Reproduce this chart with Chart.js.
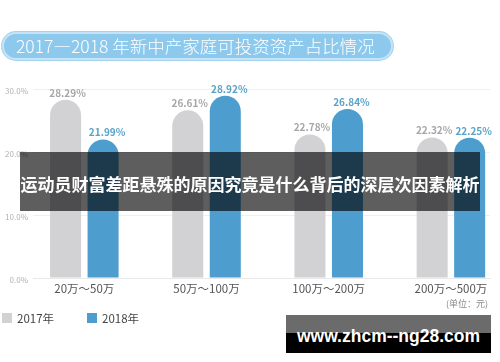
<!DOCTYPE html>
<html lang="zh-CN">
<head>
<meta charset="utf-8">
<title>2017—2018 年新中产家庭可投资资产占比情况</title>
<script src="https://cdn.jsdelivr.net/npm/chart.js@4.4.1/dist/chart.umd.min.js"></script>
<style>
    html, body {
        margin: 0;
        padding: 0;
        background: #ffffff;
    }
    .stage {
        position: relative;
        width: 500px;
        height: 362px;
        overflow: hidden;
        font-family: "Noto Sans CJK SC", "Noto Sans", sans-serif;
    }
    .stage canvas {
        position: absolute;
        left: 0;
        top: 0;
    }
    .title-pill {
        position: absolute;
        left: 2px;
        top: 32px;
        width: 387px;
        height: 24px;
        border: 2px solid #c4e3f6;
        box-shadow: 0 0 0 1px #a3d3ef;
        border-radius: 14px;
        background: #8dc9ed;
        color: #ffffff;
        font-size: 17.5px;
        font-weight: 300;
        line-height: 24px;
        text-indent: 12px;
        white-space: nowrap;
    }
    .unit {
        position: absolute;
        right: 12px;
        top: 297px;
        font-size: 9px;
        color: #8a8a8a;
    }
    .overlay-band {
        position: absolute;
        left: 20px;
        top: 152px;
        width: 460px;
        height: 59px;
        background: rgba(0, 0, 0, 0.63);
        color: #ffffff;
        font-size: 17px;
        font-weight: bold;
        line-height: 64px;
        text-align: center;
        white-space: nowrap;
    }
    .site-mark {
        position: absolute;
        left: 286px;
        top: 315px;
        width: 205px;
        height: 38px;
        background: linear-gradient(#6b6b6b 0, #6b6b6b 47%, #000000 47%, #000000 100%);
        color: #ffffff;
        font-family: "Liberation Sans", Arial, sans-serif;
        font-size: 17.5px;
        font-weight: bold;
        line-height: 42px;
        text-align: center;
        white-space: nowrap;
    }
</style>
</head>
<body>
<div class="stage">
    <canvas id="asset-chart" width="500" height="362"></canvas>
    <div class="title-pill">2017—2018 年新中产家庭可投资资产占比情况</div>
    <span class="unit">(单位：元)</span>
    <div class="overlay-band">运动员财富差距悬殊的原因究竟是什么背后的深层次因素解析</div>
    <div class="site-mark">www.zhcm--ng28.com</div>
</div>

<script>
// Data
const categories = ['20万～50万', '50万～100万', '100万～200万', '200万～500万'];
const seriesNames = ['2017年', '2018年'];
const share2017 = [28.29, 26.61, 22.78, 22.32];
const share2018 = [21.99, 28.92, 26.84, 22.25];
const yTicks = [0, 10, 20, 30];

const FONT = '"Noto Sans CJK SC", "Noto Sans", sans-serif';

const AssetChart = {
    /**
     * Build and draw the chart
     */
    init: function() {
        const ctx = document.getElementById('asset-chart').getContext('2d');

        const data = {
            datasets: [
                {
                    label: seriesNames[0],
                    data: categories.map((c, i) => ({ x: i, y: share2017[i] })),
                    backgroundColor: '#d2d2d5',
                    valueColor: '#a6a6a9',
                    valueShift: 2
                },
                {
                    label: seriesNames[1],
                    data: categories.map((c, i) => ({ x: i, y: share2018[i] })),
                    backgroundColor: '#4d9ecf',
                    valueColor: '#5aa2c8',
                    valueShift: 4
                }
            ]
        };

        const config = {
            type: 'bar',
            data: data,
            options: {
                responsive: false,
                animation: false,
                categoryPercentage: 0.614,
                barPercentage: 0.827,
                borderRadius: 16,
                borderSkipped: 'start',
                layout: {
                    padding: { top: 89, right: 10, left: 0, bottom: 0 }
                },
                scales: {
                    x: {
                        type: 'linear',
                        offset: false,
                        min: -0.42,
                        max: 3.32,
                        afterBuildTicks: axis => {
                            axis.ticks = categories.map((c, i) => ({ value: i }));
                        },
                        afterFit: axis => {
                            axis.height = 84;
                        },
                        grid: { display: false, offset: false },
                        border: { display: true, color: '#e9e9e9', width: 1 },
                        ticks: {
                            autoSkip: false,
                            maxRotation: 0,
                            padding: -4,
                            color: '#555555',
                            font: { family: FONT, size: 11.5 },
                            callback: value => categories[value]
                        }
                    },
                    y: {
                        min: 0,
                        max: 30,
                        afterBuildTicks: axis => {
                            axis.ticks = yTicks.map(v => ({ value: v }));
                        },
                        afterFit: axis => {
                            axis.width = 33;
                        },
                        grid: {
                            color: '#efefef',
                            drawTicks: false
                        },
                        border: { display: false },
                        ticks: {
                            padding: 5,
                            labelOffset: 2,
                            color: '#b0b0b0',
                            font: { family: FONT, size: 8 },
                            callback: value => value.toFixed(1) + '%'
                        }
                    }
                },
                plugins: {
                    legend: { display: false },
                    tooltip: { enabled: false }
                }
            },
            plugins: [this.valueLabels(), this.bottomLegend()]
        };

        new Chart(ctx, config);
    },

    /**
     * Percent labels above each bar
     */
    valueLabels: function() {
        return {
            id: 'valueLabels',
            afterDatasetsDraw: chart => {
                const c = chart.ctx;
                c.save();
                c.font = 'bold 10px ' + FONT;
                c.textAlign = 'center';
                c.textBaseline = 'middle';
                chart.data.datasets.forEach((ds, di) => {
                    c.fillStyle = ds.valueColor;
                    chart.getDatasetMeta(di).data.forEach((bar, i) => {
                        c.fillText(ds.data[i].y.toFixed(2) + '%', bar.x + ds.valueShift, bar.y - 7);
                    });
                });
                c.restore();
            }
        };
    },

    /**
     * Legend at the bottom left, square swatches
     */
    bottomLegend: function() {
        const startX = [2, 87];
        return {
            id: 'bottomLegend',
            afterDraw: chart => {
                const c = chart.ctx;
                c.save();
                c.font = '11.5px ' + FONT;
                c.textBaseline = 'middle';
                c.textAlign = 'left';
                chart.data.datasets.forEach((ds, di) => {
                    const x = startX[di];
                    c.fillStyle = ds.backgroundColor;
                    c.fillRect(x, 313, 10, 10);
                    c.fillStyle = '#454545';
                    c.fillText(ds.label, x + 15, 319);
                });
                c.restore();
            }
        };
    }
};

AssetChart.init();
</script>
</body>
</html>
